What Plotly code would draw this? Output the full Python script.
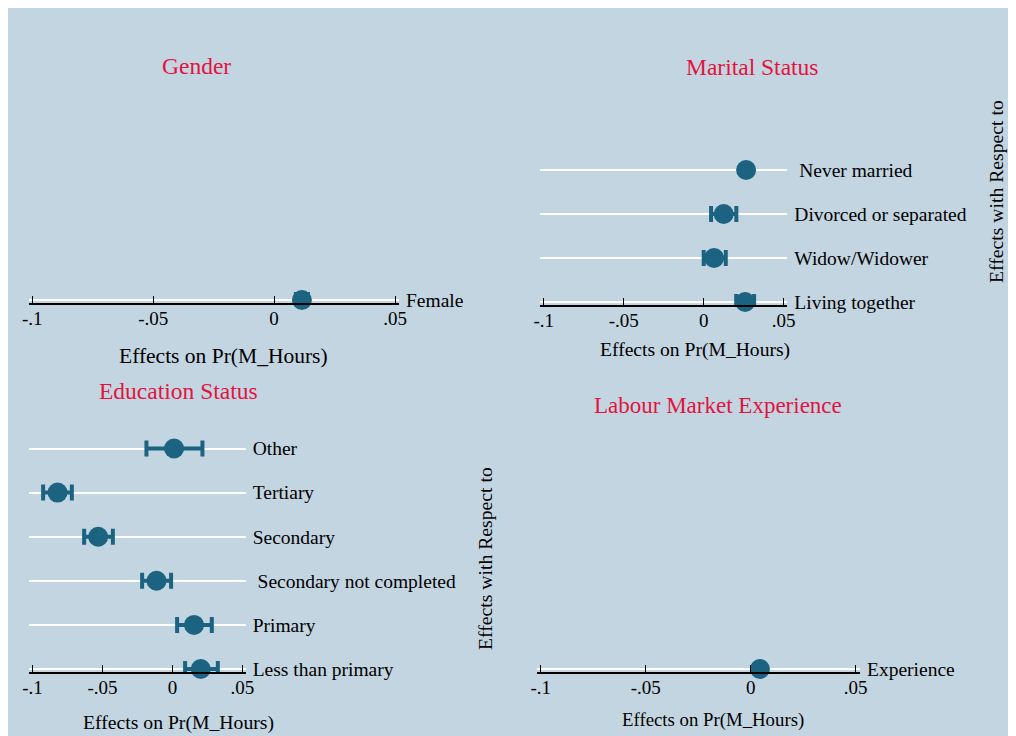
import plotly.graph_objects as go

# the page puts the figure 8px from the top-left corner
OFF = 8
W, H = 1008, 728

# ---------------- data ----------------
gender_labels = ["Female"]
gender_est = [0.0115]
gender_lo = [0.0090]
gender_hi = [0.0140]

marital_labels = ["Living together", "Widow/Widower", "Divorced or separated", "\u00a0Never married"]
marital_est = [0.0259, 0.0065, 0.0125, 0.0265]
marital_lo = [0.0203, 0.0000, 0.0046, 0.0250]
marital_hi = [0.0315, 0.0138, 0.0204, 0.0280]

educ_labels = ["Less than primary", "Primary", "\u00a0Secondary not completed", "Secondary", "Tertiary", "Other"]
educ_est = [0.0202, 0.0154, -0.0114, -0.0531, -0.0821, 0.0011]
educ_lo = [0.0090, 0.0033, -0.0217, -0.0631, -0.0924, -0.0186]
educ_hi = [0.0324, 0.0281, -0.0010, -0.0426, -0.0719, 0.0214]

exper_labels = ["Experience"]
exper_est = [0.0044]
exper_lo = [0.0034]
exper_hi = [0.0054]

x_tickvals = [-0.1, -0.05, 0, 0.05]
x_ticktext = ["-.1", "-.05", "0", ".05"]

panel_titles = ["Gender", "Marital Status", "Education Status", "Labour Market Experience"]
x_title = "Effects on Pr(M_Hours)"
y_title = "Effects with Respect to"

# ---------------- style ----------------
BG = "#C3D5E1"
MARK = "#1B6380"
TITLE_C = "#E2133F"
FONT = "Liberation Serif"


def px_x(X):
    return (X - OFF) / W


def px_y(Y):
    return 1 - (Y - OFF) / H


panels = [
    dict(labels=gender_labels, est=gender_est, lo=gender_lo, hi=gender_hi,
         px=(29, 399), xr=(-0.10136, 0.05165), yb=303, y1=300, ytop=90, sp=44),
    dict(labels=marital_labels, est=marital_est, lo=marital_lo, hi=marital_hi,
         px=(539.7, 787.3), xr=(-0.1025, 0.05225), yb=305, y1=302, ytop=90, sp=44),
    dict(labels=educ_labels, est=educ_est, lo=educ_lo, hi=educ_hi,
         px=(29, 245.7), xr=(-0.1025, 0.0523), yb=672, y1=669, ytop=420, sp=44.1),
    dict(labels=exper_labels, est=exper_est, lo=exper_lo, hi=exper_hi,
         px=(536.7, 860), xr=(-0.1019, 0.05205), yb=672, y1=669, ytop=420, sp=44),
]

fig = go.Figure()
layout = {}
for i, p in enumerate(panels, start=1):
    sfx = "" if i == 1 else str(i)
    n = len(p["labels"])
    ys = list(range(1, n + 1))
    err_plus = [h - e for h, e in zip(p["hi"], p["est"])]
    err_minus = [e - l for e, l in zip(p["est"], p["lo"])]
    fig.add_trace(go.Scatter(
        x=p["est"], y=ys, mode="markers",
        marker=dict(size=20, color=MARK, line=dict(width=0)),
        error_x=dict(type="data", array=err_plus, arrayminus=err_minus,
                     color=MARK, thickness=4, width=8),
        xaxis="x" + sfx, yaxis="y" + sfx, showlegend=False, hoverinfo="skip",
        cliponaxis=False,
    ))
    ybot = 1 - (p["yb"] - p["y1"]) / p["sp"]
    ytopv = 1 + (p["y1"] - p["ytop"]) / p["sp"]
    layout["xaxis" + sfx] = dict(
        domain=[px_x(p["px"][0]), px_x(p["px"][1])], range=list(p["xr"]),
        anchor="y" + sfx, showgrid=False, zeroline=False, automargin=False,
        showline=True, linecolor="black", linewidth=1.5,
        ticks="inside", ticklen=7, tickcolor="black", tickwidth=1.2,
        tickvals=x_tickvals, ticktext=x_ticktext, ticklabelstandoff=-3,
        tickfont=dict(family=FONT, size=19, color="black"),
    )
    layout["yaxis" + sfx] = dict(
        domain=[px_y(p["yb"]), px_y(p["ytop"])], range=[ybot, ytopv],
        anchor="x" + sfx, side="right", showline=False, zeroline=False,
        automargin=False,
        showgrid=True, gridcolor="white", gridwidth=2,
        tickvals=ys, ticktext=p["labels"], ticks="", ticklabelstandoff=6,
        tickfont=dict(family=FONT, size=19.5, color="black"),
    )


def ann(text, X, Y, size, color="black", angle=0):
    return dict(text=text, x=px_x(X), y=px_y(Y), xref="paper", yref="paper",
                xanchor="center", yanchor="middle", showarrow=False, textangle=angle,
                font=dict(family=FONT, size=size, color=color))


annotations = [
    ann(panel_titles[0], 196, 66, 23.5, TITLE_C),
    ann(panel_titles[1], 752, 67, 23.5, TITLE_C),
    ann(panel_titles[2], 178, 391, 23.5, TITLE_C),
    ann(panel_titles[3], 718, 406, 23, TITLE_C),
    ann(x_title, 223, 356, 21.5),
    ann(x_title, 695, 350, 19.6),
    ann(x_title, 178, 722, 19.7),
    ann(x_title, 713, 720, 18.8),
    ann(y_title, 996, 192, 19.7, angle=-90),
    ann(y_title, 485, 559, 19.7, angle=-90),
]

fig.update_layout(
    width=W, height=H, autosize=False,
    margin=dict(l=0, r=0, t=0, b=0, pad=0, autoexpand=False),
    paper_bgcolor=BG, plot_bgcolor="rgba(0,0,0,0)",
    annotations=annotations, showlegend=False,
    font=dict(family=FONT, color="black"),
    **layout,
)

fig.write_html("out.html")
